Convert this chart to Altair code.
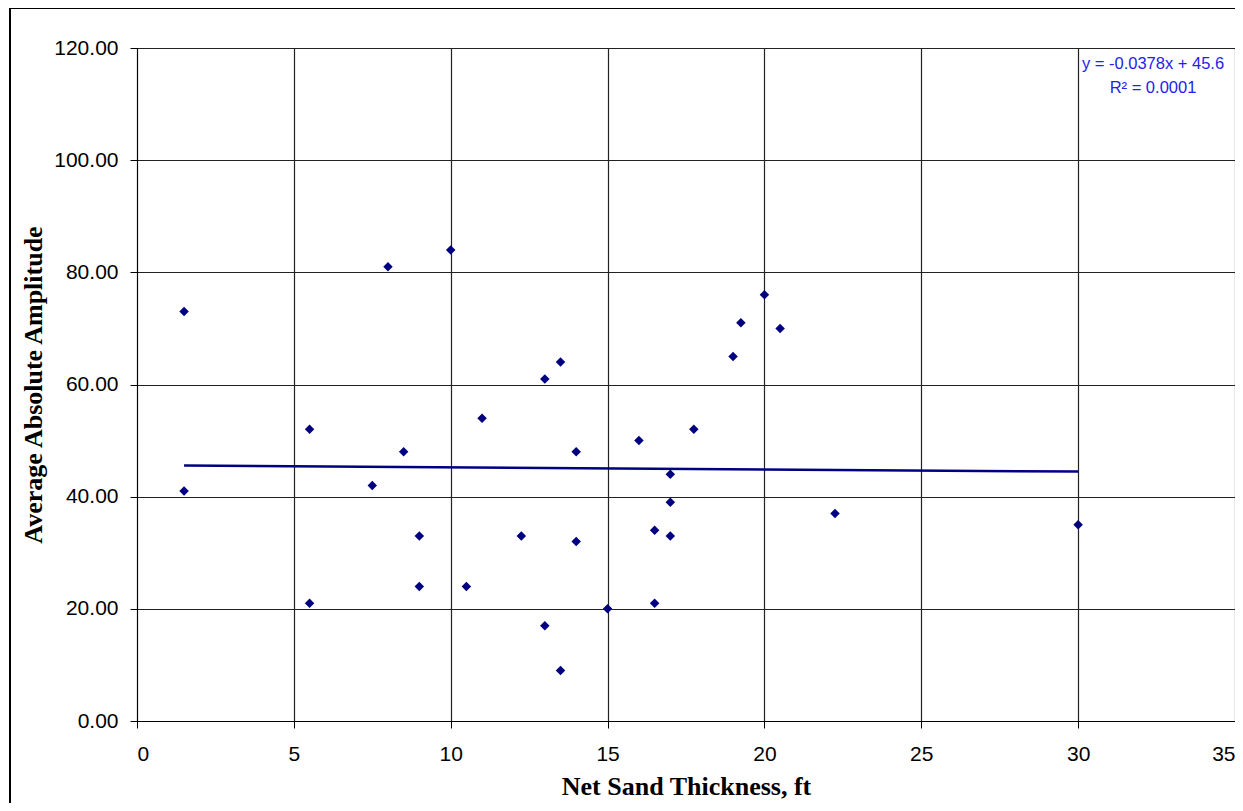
import altair as alt
import pandas as pd

thickness = [1.5, 1.5, 5.5, 5.5, 7.5, 8, 8.5, 9, 9, 10, 10.5, 11, 12.25, 13, 13, 13.5, 13.5,
             14, 14, 15, 16, 16.5, 16.5, 17, 17, 17, 17.75, 19, 19.25, 20, 20.5, 22.25, 30]
amplitude = [73, 41, 52, 21, 42, 81, 48, 33, 24, 84, 24, 54, 33, 61, 17, 64, 9,
             48, 32, 20, 50, 34, 21, 44, 39, 33, 52, 65, 71, 76, 70, 37, 35]

trend_x = [1.5, 30]
trend_y = [45.54, 44.47]

x_ticks = [0, 5, 10, 15, 20, 25, 30, 35]
y_ticks = [0, 20, 40, 60, 80, 100, 120]

eq_line1 = "y = -0.0378x + 45.6"
eq_line2 = "R² = 0.0001"

pts = pd.DataFrame({"x": thickness, "y": amplitude})
trend = pd.DataFrame({"x": trend_x, "y": trend_y})
one = pd.DataFrame({"a": [0]})

W, H = 1098, 673

xs = alt.Scale(domain=[0, 35], nice=False, zero=False)
ys = alt.Scale(domain=[0, 120], nice=False)

xax = alt.Axis(values=x_ticks, format="d", title="Net Sand Thickness, ft",
               labelFont="Liberation Sans", labelFontSize=21, labelColor="black",
               labelPadding=15, tickSize=7, tickColor="black", domainColor="black",
               gridColor="#222222", gridWidth=1.2, grid=True,
               titleFont="Liberation Serif", titleFontSize=26, titleFontWeight="bold",
               titleColor="black", titlePadding=9)
yax = alt.Axis(values=y_ticks, format=".2f", title="Average Absolute Amplitude",
               labelFont="Liberation Sans", labelFontSize=21, labelColor="black",
               labelPadding=12, tickSize=7, tickColor="black", domainColor="black",
               gridColor="#222222", gridWidth=1.2, grid=True,
               titleFont="Liberation Serif", titleFontSize=26, titleFontWeight="bold",
               titleColor="black", titlePadding=7)

points = alt.Chart(pts).mark_point(shape="diamond", filled=True, color="#000080",
                                   size=90, opacity=1).encode(
    x=alt.X("x:Q", scale=xs, axis=xax),
    y=alt.Y("y:Q", scale=ys, axis=yax),
)

line = alt.Chart(trend).mark_line(color="#000080", strokeWidth=2.5).encode(
    x=alt.X("x:Q", scale=xs),
    y=alt.Y("y:Q", scale=ys),
)

eq1 = alt.Chart(one).mark_text(font="Liberation Sans", fontSize=16.5, color="#2222ee",
                               align="center", baseline="middle", text=eq_line1).encode(
    x=alt.value(1016), y=alt.value(16)
)
eq2 = alt.Chart(one).mark_text(font="Liberation Sans", fontSize=16.5, color="#2222ee",
                               align="center", baseline="middle", text=eq_line2).encode(
    x=alt.value(1016), y=alt.value(40)
)

frame = alt.Chart(one).mark_rect(fill=None, stroke="black", strokeWidth=2).encode(
    x=alt.value(-127), x2=alt.value(1103), y=alt.value(-40), y2=alt.value(820)
)

chart = alt.layer(points, line, eq1, eq2, frame).properties(
    width=W, height=H,
    autosize=alt.AutoSizeParams(type="none"),
    padding={"left": 129, "top": 40, "right": 0, "bottom": 82},
).configure_view(stroke="black", strokeWidth=1.5).configure(background="white")

chart.save("out.html", embed_options={"renderer": "svg", "actions": False})
